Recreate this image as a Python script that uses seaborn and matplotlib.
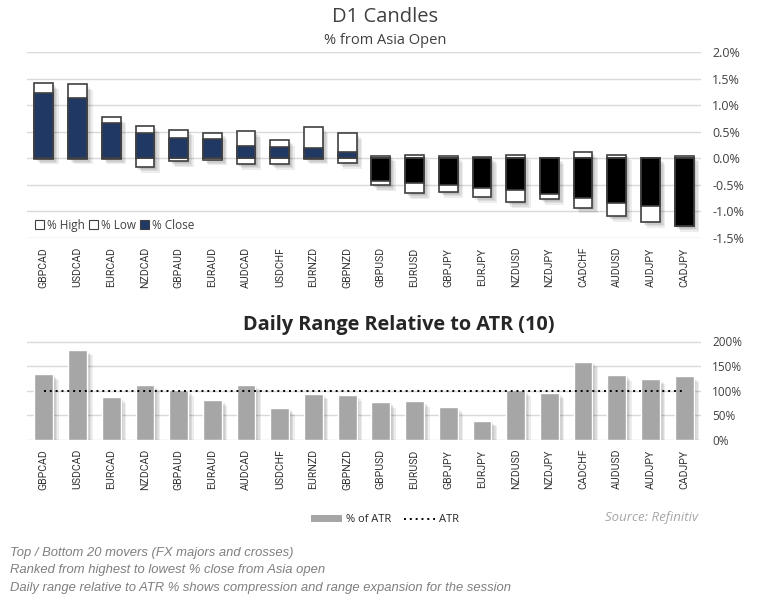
import numpy as np
import pandas as pd
import matplotlib
matplotlib.use("Agg")
import matplotlib.pyplot as plt
import matplotlib.patheffects as pe
from matplotlib.patches import Patch
from matplotlib.lines import Line2D
from matplotlib import font_manager as fm
import seaborn as sns

pairs = ["GBPCAD", "USDCAD", "EURCAD", "NZDCAD", "GBPAUD", "EURAUD", "AUDCAD", "USDCHF",
         "EURNZD", "GBPNZD", "GBPUSD", "EURUSD", "GBPJPY", "EURJPY", "NZDUSD", "NZDJPY",
         "CADCHF", "AUDUSD", "AUDJPY", "CADJPY"]
pct_high = [1.41, 1.39, 0.77, 0.60, 0.54, 0.47, 0.51, 0.34, 0.58, 0.47,
            0.05, 0.07, 0.04, 0.02, 0.07, 0.00, 0.11, 0.07, 0.00, 0.05]
pct_low = [-0.01, -0.01, -0.01, -0.17, -0.06, -0.03, -0.11, -0.11, -0.01, -0.09,
           -0.51, -0.66, -0.64, -0.73, -0.83, -0.77, -0.93, -1.09, -1.20, -1.28]
pct_close = [1.22, 1.14, 0.66, 0.47, 0.39, 0.36, 0.24, 0.21, 0.19, 0.11,
             -0.43, -0.47, -0.51, -0.56, -0.59, -0.68, -0.74, -0.84, -0.90, -1.27]
pct_atr = [134, 183, 87, 112, 101, 81, 112, 65, 94, 91,
           77, 79, 67, 39, 101, 96, 159, 132, 124, 130]
atr_level = [100] * len(pairs)

df = pd.DataFrame({"pair": pairs, "high": pct_high, "low": pct_low,
                   "close": pct_close, "atr": pct_atr, "atr_level": atr_level})
df["dir"] = np.where(df["close"] >= 0, "up", "down")

sns.set_theme(style="white")
plt.rcParams["font.family"] = ["Open Sans", "DejaVu Sans"]

installed = {f.name for f in fm.fontManager.ttflist}
LBL_FONT = "Liberation Sans Narrow" if "Liberation Sans Narrow" in installed else "Roboto"
LBL_SIZE = 8.6 if LBL_FONT == "Liberation Sans Narrow" else 7.6

TXT = "#404040"
LBL = "#333333"
GRID = "#D9D9D9"
EDGE = "#404040"
NAVY = "#1F3864"
shadow = [pe.SimplePatchShadow(offset=(o, -o), shadow_rgbFace="black", alpha=0.07)
          for o in (1, 2, 3, 4)] + [pe.Normal()]

fig = plt.figure(figsize=(7.62, 6.0), dpi=100)
W, H = 762, 600
left = 27 / W
width = (701 - 27) / W
ax1 = fig.add_axes([left, 1 - 238 / H, width, (238 - 52) / H])
ax2 = fig.add_axes([left, 1 - 440 / H, width, (440 - 341.5) / H])

# ---- top candles ----
bw = 0.56
sns.barplot(data=df, x="pair", y="high", order=pairs, color="white", edgecolor=EDGE,
            linewidth=1.2, width=bw, saturation=1, ax=ax1, zorder=3)
sns.barplot(data=df, x="pair", y="low", order=pairs, color="white", edgecolor=EDGE,
            linewidth=1.2, width=bw, saturation=1, ax=ax1, zorder=3)
for p in ax1.patches:
    p.set_path_effects(shadow)
sns.barplot(data=df, x="pair", y="close", order=pairs, hue="dir",
            palette={"up": NAVY, "down": "black"}, edgecolor=EDGE, linewidth=1.2,
            width=bw, dodge=False, saturation=1, legend=False, ax=ax1, zorder=4)

ax1.set_xlim(-0.5, 19.5)
ax1.set_ylim(-1.5, 2.0)
yt = np.arange(-1.5, 2.01, 0.5)
ax1.set_yticks(yt)
ax1.set_yticklabels([f"{v:.1f}%" for v in yt])
ax1.yaxis.tick_right()
ax1.grid(axis="y", color=GRID, linewidth=1, zorder=0)
ax1.set_axisbelow(True)
for s in ax1.spines.values():
    s.set_visible(False)
ax1.set_xlabel("")
ax1.set_ylabel("")
ax1.tick_params(axis="y", length=0, pad=8, labelsize=9, labelcolor=TXT)
ax1.tick_params(axis="x", length=0, pad=21, labelsize=LBL_SIZE, labelcolor=LBL, labelrotation=90)

handles = [Patch(facecolor="white", edgecolor=EDGE, linewidth=0.8, label="% High"),
           Patch(facecolor="white", edgecolor=EDGE, linewidth=0.8, label="% Low"),
           Patch(facecolor=NAVY, edgecolor=EDGE, linewidth=0.8, label="% Close")]
leg1 = ax1.legend(handles=handles, loc="center left", bbox_to_anchor=(0.005, 1 - (225 - 52) / (238 - 52)),
                  ncol=3, frameon=False, handlelength=0.75, handleheight=0.75, handletextpad=0.25,
                  columnspacing=0.35, fontsize=8.5, borderaxespad=0)
for t in leg1.get_texts():
    t.set_color(TXT)

# ---- bottom ATR ----
sns.barplot(data=df, x="pair", y="atr", order=pairs, color="#A6A6A6", saturation=1,
            width=0.56, ax=ax2, zorder=3)
for p in ax2.patches:
    p.set_path_effects(shadow)
sns.lineplot(x=np.arange(len(pairs)), y=df["atr_level"], color="black", linestyle=(0, (1, 2)),
             linewidth=1.4, ax=ax2, zorder=5)
ax2.set_xlim(-0.5, 19.5)
ax2.set_ylim(0, 200)
yt2 = np.arange(0, 201, 50)
ax2.set_yticks(yt2)
ax2.set_yticklabels([f"{int(v)}%" for v in yt2])
ax2.yaxis.tick_right()
ax2.set_xticks(range(len(pairs)))
ax2.set_xticklabels(pairs)
ax2.grid(axis="y", color=GRID, linewidth=1, zorder=0)
ax2.set_axisbelow(True)
for s in ax2.spines.values():
    s.set_visible(False)
ax2.set_xlabel("")
ax2.set_ylabel("")
ax2.tick_params(axis="y", length=0, pad=8, labelsize=8.5, labelcolor=TXT)
ax2.tick_params(axis="x", length=0, pad=21, labelsize=LBL_SIZE, labelcolor=LBL, labelrotation=90)

for ax in (ax1, ax2):
    for lab in ax.get_xticklabels():
        lab.set_verticalalignment("center")
        lab.set_family([LBL_FONT, "DejaVu Sans"])

# ---- texts ----
fig.text(385 / W, 1 - 17 / H, "D1 Candles", ha="center", va="center", fontsize=14.5, color=TXT)
fig.text(385 / W, 1 - 41 / H, "% from Asia Open", ha="center", va="center", fontsize=10.5, color=TXT)
fig.text(399 / W, 1 - 325 / H, "Daily Range Relative to ATR (10)", ha="center", va="center",
         fontsize=14.3, fontweight="bold", color="#262626")

h2 = [Patch(facecolor="#A6A6A6", edgecolor="none", label="% of ATR"),
      Line2D([0], [0], color="black", linestyle=(0, (1, 2)), linewidth=1.4, label="ATR")]
leg2 = fig.legend(handles=h2, loc="center", bbox_to_anchor=(385 / W, 1 - 520 / H), ncol=2,
                  frameon=False, fontsize=8, handlelength=2.8, handleheight=0.6,
                  handletextpad=0.3, columnspacing=1.2)
for t in leg2.get_texts():
    t.set_color("#262626")

fig.text(698 / W, 1 - 518 / H, "Source: Refinitiv", ha="right", va="center", fontsize=9.5,
         style="italic", color="#A6A6A6")
notes = ["Top / Bottom 20 movers (FX majors and crosses)",
         "Ranked from highest to lowest % close from Asia open",
         "Daily range relative to ATR % shows compression and range expansion for the session"]
for i, line in enumerate(notes):
    fig.text(10 / W, 1 - (553 + 17.5 * i) / H, line, ha="left", va="center", fontsize=9.4,
             style="italic", color="#7F7F7F", family=["Liberation Sans", "DejaVu Sans"])

fig.savefig("out.png", dpi=100)
